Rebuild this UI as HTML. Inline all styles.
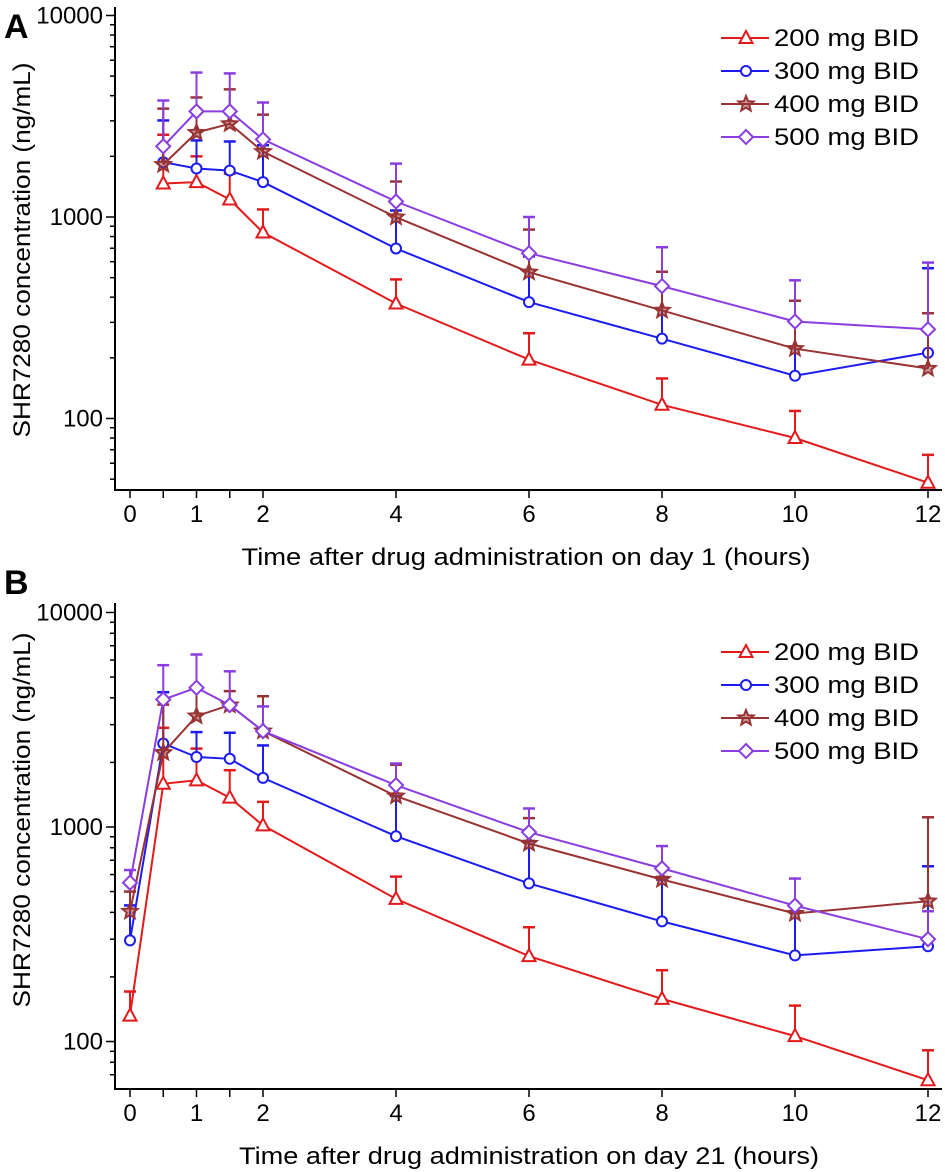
<!DOCTYPE html>
<html><head><meta charset="utf-8"><style>
html,body{margin:0;padding:0;background:#fff;}
svg{display:block;font-family:"Liberation Sans",Arial,sans-serif;}
</style></head><body>
<svg id="chart" width="945" height="1172" viewBox="0 0 945 1172" xmlns="http://www.w3.org/2000/svg"></svg>
<script>
const seriesNames = ["200 mg BID","300 mg BID","400 mg BID","500 mg BID"];
const seriesColors = ["#e31a1c","#1c1cf0","#993333","#8a3ee0"];
const seriesMarkers = ["triangle","circle","star","diamond"];
const xTickValues = [0,0.5,1,1.5,2,4,6,8,10,12];
const xTickLabels = ["0","","1","","2","4","6","8","10","12"];
const yTickLabels = ["100","1000","10000"];

const timesA = [0.5,1,1.5,2,4,6,8,10,12];
const meanA200 = [1466,1490,1222,838,372,196,117,80,48];
const errA200 = [2560,2000,1640,1090,490,265,158,109,66];
const meanA300 = [1870,1740,1700,1490,698,378,249,163,212];
const errA300 = [3014,2400,2370,2270,1077,637,450,303,557];
const meanA400 = [1820,2625,2900,2110,998,532,344,222,177];
const errA400 = [3450,3920,4300,3220,1500,866,535,384,333];
const meanA500 = [2243,3343,3343,2427,1194,661,454,303,277];
const errA500 = [3786,5210,5160,3700,1840,1000,708,485,594];

const timesB = [0,0.5,1,1.5,2,4,6,8,10,12];
const meanB200 = [132,1590,1650,1370,1017,462,250,158,106,66];
const errB200 = [171,2900,2320,1840,1310,587,341,215,147,91];
const meanB300 = [296,2450,2120,2080,1694,906,546,363,252,278];
const errB300 = [431,4250,2770,2750,2400,1393,860,569,401,656];
const meanB400 = [404,2220,3290,3700,2800,1393,838,569,395,451];
const errB400 = [500,3720,4450,4300,4070,1950,1100,585,401,1110];
const meanB500 = [550,3930,4460,3700,2800,1567,946,641,430,300];
const errB500 = [630,5680,6370,5320,3650,1977,1220,815,575,405];

const NS="http://www.w3.org/2000/svg";
const svg=document.getElementById('chart');
function mk(tag,attrs,parent){const e=document.createElementNS(NS,tag);for(const k in attrs)e.setAttribute(k,attrs[k]);(parent||svg).appendChild(e);return e;}

function marker(g,type,x,y,color){
  let e;
  if(type==="triangle"){e=mk('polygon',{points:`${x},${y-7} ${x-6.5},${y+5} ${x+6.5},${y+5}`},g);}
  else if(type==="circle"){e=mk('circle',{cx:x,cy:y,r:5},g);}
  else if(type==="diamond"){e=mk('polygon',{points:`${x},${y-7} ${x+7},${y} ${x},${y+7} ${x-7},${y}`},g);}
  else {let p=[];for(let i=0;i<10;i++){const a=-Math.PI/2+i*Math.PI/5;const r=i%2?3.5:8;p.push((x+r*Math.cos(a)).toFixed(1)+','+(y+r*Math.sin(a)).toFixed(1));}
    e=mk('polygon',{points:p.join(' ')},g);}
  e.setAttribute('fill', type==="star"?color:'#fff');
  e.setAttribute('fill-opacity', type==="star"?'0.5':'1');
  e.setAttribute('stroke',color);e.setAttribute('stroke-width','2');
  
  
  return e;
}

function drawPanel(p){
  const X=t=>p.x0+t*p.xs;
  const Y=v=>p.y1000-(Math.log10(v)-3)*p.dec;
  const g=mk('g',{});
  
  
  const lab=mk('text',{x:4,y:p.letterY,'font-size':34,'font-weight':'bold',fill:'#000'},g);
  lab.textContent=p.letter;
  
  
  const ya=mk('line',{x1:p.ax,y1:p.yTop,x2:p.ax,y2:p.yBot,stroke:'#000','stroke-width':2},g);
  
  
  const xa=mk('line',{x1:p.ax-1,y1:p.yBot,x2:942,y2:p.yBot,stroke:'#000','stroke-width':2},g);
  
  
  for(let d=1;d<=4;d++){for(let m=1;m<=9;m++){const v=m*Math.pow(10,d);const y=Y(v);
    if(y<p.yTop-1||y>p.yBot)continue;
    mk('line',{x1:p.ax-(m===1?9:5),y1:y,x2:p.ax,y2:y,stroke:'#000','stroke-width':1.5},g);}}
  yTickLabels.forEach(s=>{const t=mk('text',{x:p.ax-12,y:Y(+s)+8,'font-size':24,'text-anchor':'end',fill:'#000'},g);t.textContent=s;
    
    });
  xTickValues.forEach((v,i)=>{const x=X(v);mk('line',{x1:x,y1:p.yBot,x2:x,y2:p.yBot+8,stroke:'#000','stroke-width':1.5},g);
    if(xTickLabels[i]){const t=mk('text',{x:x,y:p.yBot+32,'font-size':24,'text-anchor':'middle',fill:'#000'},g);t.textContent=xTickLabels[i];
      
      }});
  const xt=mk('text',{x:p.xtC,y:p.yBot+75,'font-size':24,'text-anchor':'middle',fill:'#000',textLength:p.xtLen,lengthAdjust:'spacingAndGlyphs'},g);
  xt.textContent=p.xtitle;
  
  
  const yt=mk('text',{x:0,y:0,'font-size':24,'text-anchor':'middle',fill:'#000',textLength:375,lengthAdjust:'spacingAndGlyphs',transform:`translate(30,${p.yTitleC}) rotate(-90)`},g);
  yt.textContent='SHR7280 concentration (ng/mL)';
  
  
  p.means.forEach((mv,si)=>{
    const c=seriesColors[si];
    const sg=mk('g',{},g);
    
    
    p.errs[si].forEach((ev,i)=>{const x=X(p.times[i]);
      mk('line',{x1:x,y1:Y(mv[i]),x2:x,y2:Y(ev),stroke:c,'stroke-width':2},sg);
      mk('line',{x1:x-6,y1:Y(ev),x2:x+6,y2:Y(ev),stroke:c,'stroke-width':2.5},sg);});
    const pts=mv.map((v,i)=>X(p.times[i]).toFixed(1)+','+Y(v).toFixed(1)).join(' ');
    const pl=mk('polyline',{points:pts,fill:'none',stroke:c,'stroke-width':2},sg);
    
    
    mv.forEach((v,i)=>marker(sg,seriesMarkers[si],X(p.times[i]),Y(v),c));
  });
  const lg=mk('g',{},g);
  
  
  seriesNames.forEach((n,i)=>{const y=p.legY+i*33;
    const eg=mk('g',{},lg);
    
    
    mk('line',{x1:721,y1:y,x2:769,y2:y,stroke:seriesColors[i],'stroke-width':2},eg);
    marker(eg,seriesMarkers[i],746,y,seriesColors[i]);
    const t=mk('text',{x:774,y:y+8,'font-size':24,fill:'#000',textLength:145,lengthAdjust:'spacingAndGlyphs'},eg);t.textContent=n;});
}

drawPanel({name:'panel-a',letter:'A',letterY:38,x0:130,xs:66.5,ax:115,y1000:217,dec:201.5,yTop:7,yBot:490,
  xtitle:'Time after drug administration on day 1 (hours)',xtC:526,xtLen:569,yTitleC:250,legY:38,times:timesA,
  means:[meanA200,meanA300,meanA400,meanA500],errs:[errA200,errA300,errA400,errA500]});
drawPanel({name:'panel-b',letter:'B',letterY:594,x0:130,xs:66.5,ax:115,y1000:827,dec:214.5,yTop:603,yBot:1089,
  xtitle:'Time after drug administration on day 21 (hours)',xtC:529,xtLen:580,yTitleC:820,legY:652,times:timesB,
  means:[meanB200,meanB300,meanB400,meanB500],errs:[errB200,errB300,errB400,errB500]});
</script>
</body></html>
